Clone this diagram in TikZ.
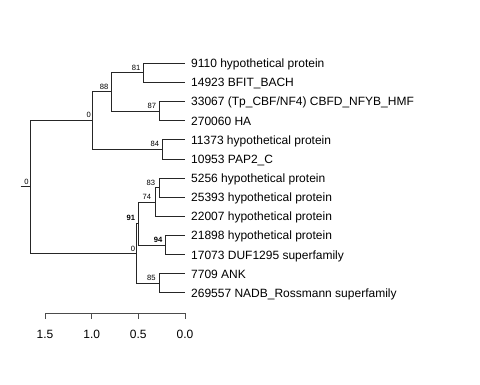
\documentclass[tikz,border=0pt]{standalone}
\usepackage{fontspec}
\setmainfont{Liberation Sans}
\begin{document}
\begin{tikzpicture}[x=1pt,y=-1pt,
  edge/.style={draw=black!85,line width=1pt},
  leaf/.style={anchor=base west,inner sep=0pt,font=\fontsize{12}{14}\selectfont},
  blab/.style={anchor=base east,inner sep=0pt,font=\fontsize{7.6}{8}\selectfont},
  bblab/.style={blab,font=\fontsize{7.6}{8}\selectfont\bfseries},
  axlab/.style={anchor=base,inner sep=0pt,font=\fontsize{12}{14}\selectfont},
  axis/.style={draw=black!70,line width=1pt}]
\useasboundingbox (0,0) rectangle (480,384);
% internal nodes
\coordinate (R) at (30.7,186.8);
\coordinate (Rs) at (20.7,186.8);
\coordinate (U0) at (92.3,120);
\coordinate (N88) at (111,91.5);
\coordinate (N81) at (143.3,72.9);
\coordinate (N87) at (159.7,111.2);
\coordinate (N84) at (162.3,149.4);
\coordinate (L0) at (136.5,253.5);
\coordinate (N91) at (138.5,223.6);
\coordinate (N74) at (155,202);
\coordinate (N83) at (159,187.7);
\coordinate (N94) at (165,245.1);
\coordinate (N85) at (159,283.4);
% leaf tips
\foreach \i/\y in {1/63.3,2/82.44,3/101.58,4/120.72,5/139.86,6/159.0,7/178.14,8/197.28,9/216.42,10/235.56,11/254.7,12/273.84,13/292.98}
  \coordinate (t\i) at (185,\y);
% leaf labels
\node[leaf] (l1) at (191,67.6) {9110 hypothetical protein};
\node[leaf] (l2) at (191,86.74) {14923 BFIT\_BACH};
\node[leaf] (l3) at (191,105.88) {33067 (Tp\_CBF/NF4) CBFD\_NFYB\_HMF};
\node[leaf] (l4) at (191,125.02) {270060 HA};
\node[leaf] (l5) at (191,144.16) {11373 hypothetical protein};
\node[leaf] (l6) at (191,163.3) {10953 PAP2\_C};
\node[leaf] (l7) at (191,182.44) {5256 hypothetical protein};
\node[leaf] (l8) at (191,201.58) {25393 hypothetical protein};
\node[leaf] (l9) at (191,220.72) {22007 hypothetical protein};
\node[leaf] (l10) at (191,239.86) {21898 hypothetical protein};
\node[leaf] (l11) at (191,259.0) {17073 DUF1295 superfamily};
\node[leaf] (l12) at (191,278.14) {7709 ANK};
\node[leaf] (l13) at (191,297.28) {269557 NADB\_Rossmann superfamily};
% edges
\draw[edge] (Rs) -- (R);
\draw[edge] (R) |- (U0);
\draw[edge] (R) |- (L0);
\draw[edge] (U0) |- (N88);
\draw[edge] (U0) |- (N84);
\draw[edge] (N88) |- (N81);
\draw[edge] (N88) |- (N87);
\draw[edge] (N81) |- (t1);
\draw[edge] (N81) |- (t2);
\draw[edge] (N87) |- (t3);
\draw[edge] (N87) |- (t4);
\draw[edge] (N84) |- (t5);
\draw[edge] (N84) |- (t6);
\draw[edge] (L0) |- (N91);
\draw[edge] (L0) |- (N85);
\draw[edge] (N91) |- (N74);
\draw[edge] (N91) |- (N94);
\draw[edge] (N74) |- (N83);
\draw[edge] (N74) |- (t9);
\draw[edge] (N83) |- (t7);
\draw[edge] (N83) |- (t8);
\draw[edge] (N94) |- (t10);
\draw[edge] (N94) |- (t11);
\draw[edge] (N85) |- (t12);
\draw[edge] (N85) |- (t13);
% support labels
\node[blab] (bR) at (28.8,184.3) {0};
\node[blab] (bU0) at (91,117.5) {0};
\node[blab] (b88) at (108.5,89) {88};
\node[blab] (b81) at (140.5,70.4) {81};
\node[blab] (b87) at (156.2,108.7) {87};
\node[blab] (b84) at (159.2,146.9) {84};
\node[blab] (bL0) at (135.2,251) {0};
\node[bblab] (b91) at (135.2,220.3) {91};
\node[blab] (b74) at (151.2,199.5) {74};
\node[blab] (b83) at (155.2,185.2) {83};
\node[bblab] (b94) at (162.5,242.6) {94};
\node[blab] (b85) at (155.9,280.9) {85};
% axis
\coordinate (a15) at (45,313.3);
\coordinate (a10) at (91.67,313.3);
\coordinate (a05) at (138.33,313.3);
\coordinate (a00) at (185,313.3);
\draw[axis] (a15) -- (a00);
\foreach \c/\t in {a15/1.5,a10/1.0,a05/0.5,a00/0.0}{
  \draw[axis] (\c) -- ++(0,6);
  \node[axlab] (lab\c) at ([yshift=-25]\c) {\t};
}
\end{tikzpicture}
\end{document}
